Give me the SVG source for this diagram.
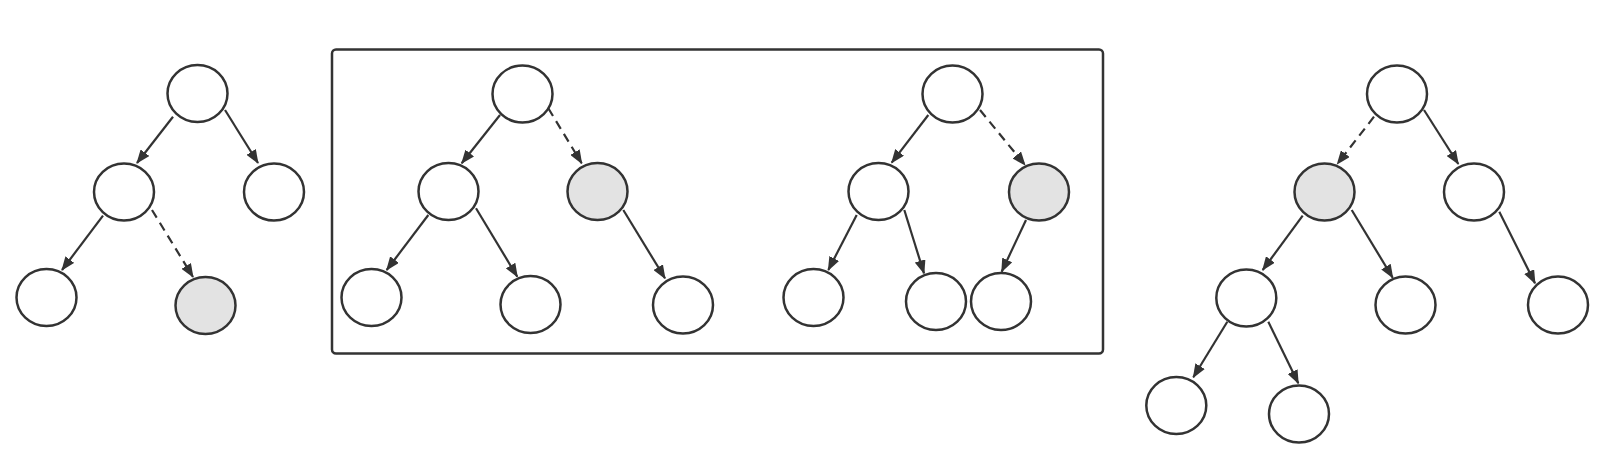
<svg xmlns="http://www.w3.org/2000/svg" width="1597" height="462" viewBox="0 0 1597 462">
<style>
.n{fill:#fff;stroke:#333;stroke-width:2.5}
.g{fill:#e3e3e3;stroke:#333;stroke-width:2.5}
.e{fill:none;stroke:#333;stroke-width:2.2;marker-end:url(#ah)}
.d{stroke-dasharray:9 6}
.box{fill:none;stroke:#333;stroke-width:2.5}
</style>
<defs>
<marker id="ah" viewBox="0 0 14 11" refX="13" refY="5.5" markerWidth="14" markerHeight="11" markerUnits="userSpaceOnUse" orient="auto">
<path d="M0,0 L14,5.5 L0,11 z" fill="#333"/>
</marker>
</defs>
<rect id="frame" class="box" x="332" y="49.5" width="771" height="304" rx="4"/>
<g id="t1">
<g id="t1r"><ellipse class="n" cx="197.5" cy="93.5" rx="30" ry="28.5"/></g>
<g id="t1a"><ellipse class="n" cx="124" cy="192" rx="30" ry="28.5"/></g>
<g id="t1b"><ellipse class="n" cx="274" cy="192" rx="30" ry="28.5"/></g>
<g id="t1c"><ellipse class="n" cx="46.5" cy="297.5" rx="30" ry="28.5"/></g>
<g id="t1d"><ellipse class="g" cx="205.5" cy="305.5" rx="30" ry="28.5"/></g>
</g>
<g id="t2">
<g id="t2r"><ellipse class="n" cx="522.5" cy="94" rx="30" ry="28.5"/></g>
<g id="t2a"><ellipse class="n" cx="448.5" cy="191.5" rx="30" ry="28.5"/></g>
<g id="t2b"><ellipse class="g" cx="597.5" cy="191.5" rx="30" ry="28.5"/></g>
<g id="t2c"><ellipse class="n" cx="371.5" cy="297.5" rx="30" ry="28.5"/></g>
<g id="t2d"><ellipse class="n" cx="530.5" cy="304.5" rx="30" ry="28.5"/></g>
<g id="t2e"><ellipse class="n" cx="683" cy="305" rx="30" ry="28.5"/></g>
</g>
<g id="t3">
<g id="t3r"><ellipse class="n" cx="952.5" cy="94" rx="30" ry="28.5"/></g>
<g id="t3a"><ellipse class="n" cx="878.5" cy="191.5" rx="30" ry="28.5"/></g>
<g id="t3b"><ellipse class="g" cx="1039" cy="192" rx="30" ry="28.5"/></g>
<g id="t3c"><ellipse class="n" cx="813.5" cy="297.5" rx="30" ry="28.5"/></g>
<g id="t3d"><ellipse class="n" cx="936" cy="301.5" rx="30" ry="28.5"/></g>
<g id="t3e"><ellipse class="n" cx="1001" cy="301.5" rx="30" ry="28.5"/></g>
</g>
<g id="t4">
<g id="t4r"><ellipse class="n" cx="1397" cy="94" rx="30" ry="28.5"/></g>
<g id="t4a"><ellipse class="g" cx="1324.5" cy="192" rx="30" ry="28.5"/></g>
<g id="t4b"><ellipse class="n" cx="1474" cy="192" rx="30" ry="28.5"/></g>
<g id="t4c"><ellipse class="n" cx="1246.3" cy="298" rx="30" ry="28.5"/></g>
<g id="t4d"><ellipse class="n" cx="1405.5" cy="305" rx="30" ry="28.5"/></g>
<g id="t4e"><ellipse class="n" cx="1558" cy="305" rx="30" ry="28.5"/></g>
<g id="t4f"><ellipse class="n" cx="1176.3" cy="405.5" rx="30" ry="28.5"/></g>
<g id="t4g"><ellipse class="n" cx="1299" cy="414" rx="30" ry="28.5"/></g>
</g>
<g id="connectors">
<line class="e" x1="173" y1="116.7" x2="137" y2="163"/>
<line class="e" x1="225" y1="110" x2="258" y2="163"/>
<line class="e" x1="103" y1="215.7" x2="62" y2="270"/>
<line class="e d" x1="152" y1="210" x2="193" y2="277"/>

<line class="e" x1="500" y1="115" x2="461.7" y2="163.3"/>
<line class="e d" x1="548.3" y1="108.3" x2="581.7" y2="163.3"/>
<line class="e" x1="428.3" y1="215" x2="386.7" y2="270"/>
<line class="e" x1="476" y1="208.3" x2="517.3" y2="276.7"/>
<line class="e" x1="623.3" y1="210" x2="665" y2="278.3"/>

<line class="e" x1="928.3" y1="115" x2="891.7" y2="162.7"/>
<line class="e d" x1="980" y1="110" x2="1025" y2="165"/>
<line class="e" x1="856.7" y1="215" x2="828.3" y2="270"/>
<line class="e" x1="904.3" y1="210" x2="924" y2="273.3"/>
<line class="e" x1="1026" y1="220" x2="1001.7" y2="271.7"/>

<line class="e d" x1="1374" y1="116.7" x2="1337.3" y2="164"/>
<line class="e" x1="1424" y1="110" x2="1458.3" y2="164"/>
<line class="e" x1="1302.7" y1="215.7" x2="1262.7" y2="270"/>
<line class="e" x1="1351.7" y1="210" x2="1392.7" y2="277.7"/>
<line class="e" x1="1499.3" y1="211.7" x2="1535" y2="283.3"/>
<line class="e" x1="1227.3" y1="321.7" x2="1193.3" y2="377.3"/>
<line class="e" x1="1268.3" y1="321.7" x2="1298.3" y2="383.3"/>
</g>
</svg>
